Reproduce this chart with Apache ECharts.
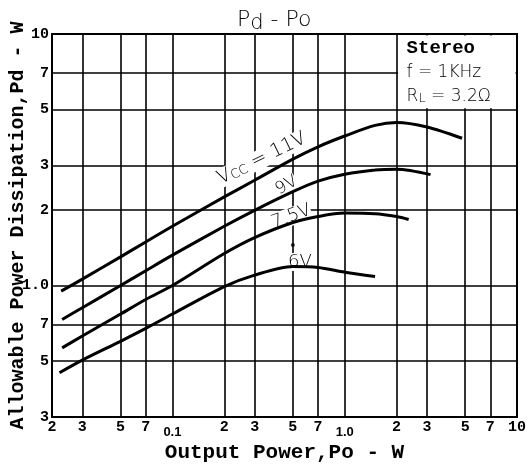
<!DOCTYPE html>
<html><head><meta charset="utf-8">
<script src="https://cdn.jsdelivr.net/npm/echarts@6/dist/echarts.min.js"></script>
<style>html,body{margin:0;padding:0;background:#fff}#c{width:528px;height:468px}</style>
</head><body><div id="c"></div>
<script>
// Tick values and labels
const xTicks = [0.02,0.03,0.05,0.07,0.1,0.2,0.3,0.5,0.7,1,2,3,5,7,10];
const xTickLabels = ['2','3','5','7','0.1','2','3','5','7','1.0','2','3','5','7','10'];
const yTicks = [0.3,0.5,0.7,1,2,3,5,7,10];
const yTickLabels = ['3','5','7','1.0','2','3','5','7','10'];

// Curves: Po (W) and Pd (W)
const v11x = [0.0226,0.03,0.05,0.07,0.1,0.2,0.3,0.5,0.7,1.0,1.5,2,3,4.8];
const v11y = [0.95,1.06,1.30,1.49,1.72,2.25,2.62,3.18,3.56,3.93,4.33,4.45,4.27,3.85];
const v9x = [0.0229,0.03,0.05,0.07,0.1,0.2,0.3,0.5,0.7,1.0,1.5,2,3.15];
const v9y = [0.733,0.816,1.0,1.145,1.32,1.72,1.99,2.36,2.6,2.77,2.88,2.9,2.76];
const v75x = [0.0229,0.03,0.05,0.07,0.1,0.2,0.3,0.5,0.7,1.0,1.5,2,2.35];
const v75y = [0.565,0.63,0.77,0.88,1.0,1.34,1.55,1.78,1.88,1.94,1.93,1.88,1.83];
const v6x = [0.0221,0.03,0.05,0.07,0.1,0.2,0.3,0.5,0.7,1.0,1.5];
const v6y = [0.45,0.505,0.6,0.675,0.77,0.99,1.10,1.19,1.18,1.13,1.085];

const seriesNames = ['11V','9V','7.5V','6V'];
const leaderDot = [[0.5,1.45]];

function pairs(xs, ys){ return xs.map((v,i)=>[v, ys[i]]); }
function lookup(ticks, labels, v){
  for (let i=0;i<ticks.length;i++){ if (Math.abs(ticks[i]-v) <= ticks[i]*1e-6) return labels[i]; }
  return '';
}

const chart = echarts.init(document.getElementById('c'), null, {renderer:'canvas'});
const mono = '"Liberation Mono", "DejaVu Sans Mono", monospace';
const thin = '"DejaVu Sans", sans-serif';
const curves = [[v11x,v11y],[v9x,v9y],[v75x,v75y],[v6x,v6y]];

chart.setOption({
  animation:false,
  backgroundColor:'#fff',
  title:{
    text:'{p|P}{d|d}{p| - Po}', left:232, top:1,
    textStyle:{rich:{
      p:{fontFamily:thin, fontWeight:200, fontSize:22, color:'#000', lineHeight:28, verticalAlign:'middle'},
      d:{fontFamily:thin, fontWeight:200, fontSize:21, color:'#000', lineHeight:17, verticalAlign:'bottom'}}}
  },
  grid:{left:52, top:34, right:11, bottom:51, show:true, borderColor:'#000', borderWidth:2, outerBoundsMode:'none', containLabel:false},
  xAxis:{
    type:'log', logBase:10, min:0.02, max:10,
    axisLine:{show:true, lineStyle:{color:'#000', width:2}},
    axisTick:{show:false, customValues:xTicks},
    axisLabel:{customValues:xTicks, margin:3, color:'#000', fontFamily:mono, fontWeight:'bold', fontSize:15,
      formatter:function(v){ const s = lookup(xTicks,xTickLabels,v); return (s==='0.1'||s==='1.0') ? '{s|'+s+'}' : s; },
      rich:{s:{fontFamily:'"Liberation Sans", sans-serif', fontSize:13, color:'#000', padding:[6,0,0,0]}}},
    splitLine:{show:true, lineStyle:{color:'#000', width:1.6}},
    name:'Output Power,Po - W', nameLocation:'middle', nameGap:25, nameMoveOverlap:false,
    nameTextStyle:{fontFamily:mono, fontWeight:'bold', fontSize:21, color:'#000'}
  },
  yAxis:{
    type:'log', logBase:10, min:0.3, max:10,
    axisLine:{show:true, lineStyle:{color:'#000', width:2}},
    axisTick:{show:false, customValues:yTicks},
    axisLabel:{customValues:yTicks, margin:3, color:'#000', fontFamily:mono, fontWeight:'bold', fontSize:15,
      formatter:function(v){ return lookup(yTicks,yTickLabels,v); }},
    splitLine:{show:true, lineStyle:{color:'#000', width:1.6}},
    name:'Allowable Power Dissipation,Pd - W', nameLocation:'middle', nameGap:24, nameRotate:90, nameMoveOverlap:false,
    nameTextStyle:{fontFamily:mono, fontWeight:'bold', fontSize:20, color:'#000'}
  },
  series: curves.map((c,i)=>({
    type:'line', name:seriesNames[i], data:pairs(c[0],c[1]), showSymbol:false, smooth:0.3, z:3,
    lineStyle:{color:'#000', width:3}
  })).concat([{
    type:'scatter', data:leaderDot, symbolSize:4, itemStyle:{color:'#000'}, z:3
  }])
});

function P(x,y){ return chart.convertToPixel({gridIndex:0},[x,y]); }
const deg = Math.PI/180;
const pVcc = P(0.33,3.2), p9 = P(0.46,2.5), p75 = P(0.49,1.88), p6 = P(0.55,1.24);
const bTL = P(2,10), bBR = P(10,5);
const lab = (p, text, rot, rich, size) => ({
  type:'text', x:p[0], y:p[1], rotation:rot*deg, z:1,
  style:{text:text, fill:'#000', fontFamily:thin, fontWeight:200, fontSize:size||17,
    textAlign:'center', textVerticalAlign:'middle', align:'center', verticalAlign:'middle',
    backgroundColor:'#fff', rich:rich||{}}
});
const subRich = {s:{fontFamily:thin, fontWeight:200, fontSize:13, fill:'#000', verticalAlign:'bottom', lineHeight:12}};
chart.setOption({
  graphic:[
    lab(pVcc, 'V{s|CC} = 11V', 26, subRich, 19),
    lab(p9, '9V', 30, null, 17),
    lab(p75, '7.5V', 20, null, 18),
    lab(p6, '6V', 0, null, 18),
    {type:'rect', z:1, shape:{x:bTL[0]+1.5, y:bTL[1]+1.5, width:bBR[0]-bTL[0]-3, height:bBR[1]-bTL[1]-3}, style:{fill:'#fff'}},
    {type:'text', z:2, x:bTL[0]+10, y:bTL[1]+14, style:{text:'Stereo', fill:'#000', fontFamily:mono, fontWeight:'bold', fontSize:19, textVerticalAlign:'middle', verticalAlign:'middle'}},
    {type:'text', z:2, x:bTL[0]+10, y:bTL[1]+39, style:{text:'f = 1KHz', fill:'#000', fontFamily:thin, fontWeight:200, fontSize:17, textVerticalAlign:'middle', verticalAlign:'middle'}},
    {type:'text', z:2, x:bTL[0]+10, y:bTL[1]+63, style:{text:'R{s|L} = 3.2Ω', fill:'#000', fontFamily:thin, fontWeight:200, fontSize:17, textVerticalAlign:'middle', verticalAlign:'middle', rich:subRich}}
  ]
});
</script>
</body></html>
